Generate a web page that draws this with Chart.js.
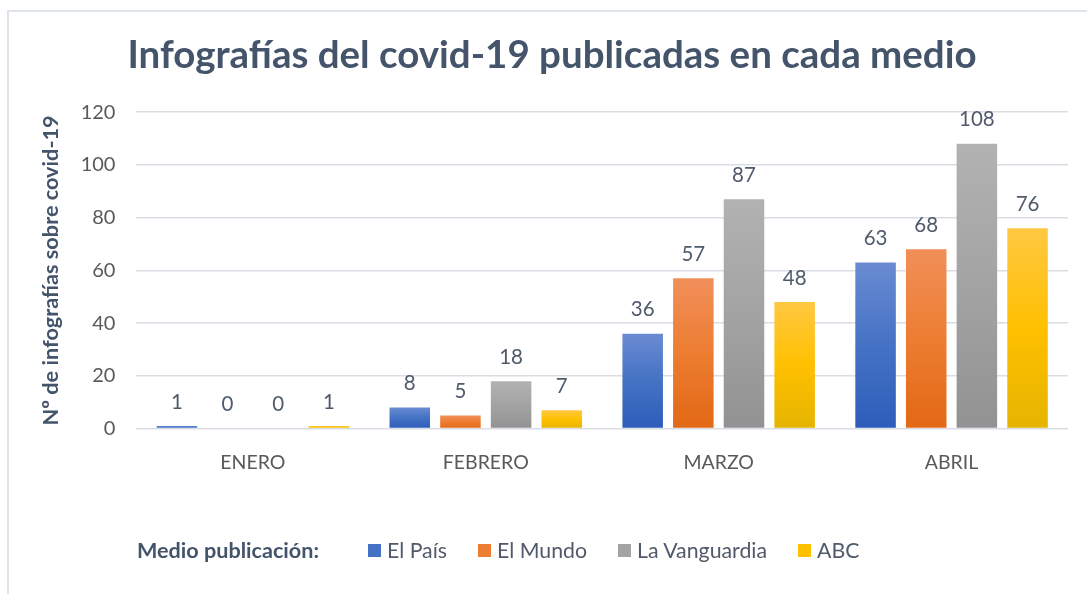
<!DOCTYPE html>
<html>
<head>
<meta charset="utf-8">
<script src="https://cdn.jsdelivr.net/npm/chart.js@4"></script>
<style>
  body { margin: 0; background: #fff; overflow: hidden; font-family: Lato, sans-serif; }
  #frame { position: absolute; left: 7px; top: 10px; width: 1200px; height: 700px; border: 2px solid #dfe3ea; box-sizing: border-box; }
  #wrap { position: absolute; left: 0; top: 0; width: 1087px; height: 594px; }
  #legend { position: absolute; left: 137px; top: 537px; display: flex; align-items: center; font-size: 21.3px; color: #505a6b; white-space: nowrap; }
  #legend .ttl { font-weight: bold; font-size: 21.6px; color: #44546a; margin-right: 49px; }
  #legend .item { display: flex; align-items: center; margin-right: 31px; }
  #legend .box { width: 13px; height: 13px; margin-right: 6px; }
</style>
</head>
<body>
<div id="frame"></div>
<div id="wrap"><canvas id="chart"></canvas></div>
<div id="legend"></div>
<script>
// ---- data ----
const categories = ['ENERO', 'FEBRERO', 'MARZO', 'ABRIL'];
const seriesNames = ['El País', 'El Mundo', 'La Vanguardia', 'ABC'];
const elPais = [1, 8, 36, 63];
const elMundo = [0, 5, 57, 68];
const laVanguardia = [0, 18, 87, 108];
const abc = [1, 7, 48, 76];
const yMin = 0;
const yMax = 120;
const yStep = 20;

// gradient colours: top, middle, bottom
const palette = [
    ['#6a8bd2', '#4472c4', '#2d5dba'],
    ['#f18f5a', '#ed7d31', '#e26815'],
    ['#b2b2b2', '#a3a3a3', '#929292'],
    ['#ffc842', '#ffc000', '#e5b400']
];

const gradientFill = (i) => (c) => {
    const cols = palette[i];
    if (c.type !== 'data' || !c.chart.chartArea) return cols[1];
    const y = c.chart.scales.y;
    const top = y.getPixelForValue(c.raw);
    const bottom = y.getPixelForValue(0);
    if (bottom - top < 2) return cols[1];
    const g = c.chart.ctx.createLinearGradient(0, top, 0, bottom);
    g.addColorStop(0, cols[0]);
    g.addColorStop(0.5, cols[1]);
    g.addColorStop(1, cols[2]);
    return g;
};

const allSeries = [elPais, elMundo, laVanguardia, abc];
const datasets = allSeries.map((d, i) => ({
    label: seriesNames[i],
    data: d,
    backgroundColor: gradientFill(i),
    borderWidth: 0,
    categoryPercentage: 0.87,
    barPercentage: 0.8
}));

// value labels above each bar
const valueLabels = {
    id: 'valueLabels',
    afterDatasetsDraw(chart) {
        const ctx = chart.ctx;
        ctx.save();
        ctx.font = '20.5px Lato';
        ctx.fillStyle = '#4f5a6c';
        ctx.textAlign = 'center';
        ctx.textBaseline = 'middle';
        chart.data.datasets.forEach((ds, i) => {
            chart.getDatasetMeta(i).data.forEach((bar, j) => {
                ctx.fillText(String(ds.data[j]), bar.x, bar.y - 24);
            });
        });
        ctx.restore();
    }
};

const chart = new Chart(document.getElementById('chart'), {
    type: 'bar',
    data: { labels: categories, datasets: datasets },
    plugins: [valueLabels],
    options: {
        responsive: true,
        maintainAspectRatio: false,
        animation: false,
        layout: { padding: { left: 36, right: 19, top: 0, bottom: 106 } },
        plugins: {
            legend: { display: false },
            tooltip: { enabled: false },
            title: {
                display: true,
                text: 'Infografías del covid-19 publicadas en cada medio',
                color: '#44546a',
                font: { family: 'Lato', size: 38.5, weight: 'bold' },
                padding: { top: 32, bottom: 34 }
            }
        },
        scales: {
            x: {
                grid: { display: false },
                border: { display: false },
                ticks: { color: '#595959', font: { family: 'Lato', size: 19.5 }, padding: 14 }
            },
            y: {
                min: yMin,
                max: yMax,
                ticks: { stepSize: yStep, color: '#595959', font: { family: 'Lato', size: 20 }, padding: 21 },
                grid: { color: '#dadde3', lineWidth: 1.5, drawTicks: false },
                border: { display: false },
                title: {
                    display: true,
                    text: 'Nº de infografías sobre covid-19',
                    color: '#44546a',
                    font: { family: 'Lato', size: 21.7, weight: 'bold' },
                    padding: { top: 2, bottom: -4.4 }
                }
            }
        }
    }
});

// legend built from the datasets
const legend = document.getElementById('legend');
legend.innerHTML = '<span class="ttl">Medio publicación:</span>' + seriesNames.map((n, i) =>
    '<span class="item"><span class="box" style="background:' + palette[i][1] + '"></span>' + n + '</span>'
).join('');
</script>
</body>
</html>
